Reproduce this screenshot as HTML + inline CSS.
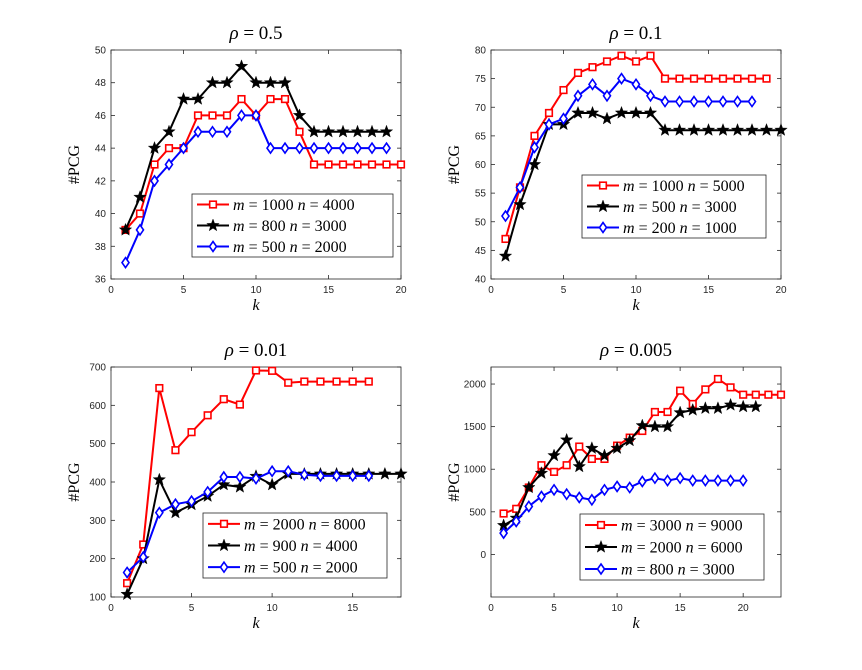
<!DOCTYPE html>
<html><head><meta charset="utf-8"><style>
body{margin:0;background:#fff}
svg{display:block}
.sans{font-family:"Liberation Sans",sans-serif}
.serif{font-family:"Liberation Serif",serif}
</style></head><body>
<svg id="fig" width="862" height="670" xmlns="http://www.w3.org/2000/svg"></svg>
<script>
// ---- data ----
const tlRed=[39,40,43,44,44,46,46,46,47,46,47,47,45,43,43,43,43,43,43,43];
const tlBlack=[39,41,44,45,47,47,48,48,49,48,48,48,46,45,45,45,45,45,45];
const tlBlue=[37,39,42,43,44,45,45,45,46,46,44,44,44,44,44,44,44,44,44];
const trRed=[47,56,65,69,73,76,77,78,79,78,79,75,75,75,75,75,75,75,75];
const trBlack=[44,53,60,67,67,69,69,68,69,69,69,66,66,66,66,66,66,66,66,66];
const trBlue=[51,56,63,67,68,72,74,72,75,74,72,71,71,71,71,71,71,71];
const blRed=[136,237,645,483,530,574,616,602,691,690,659,662,662,662,662,662];
const blBlack=[107,200,406,320,341,363,393,387,415,393,421,421,421,421,421,421,421,421];
const blBlue=[164,204,320,342,350,374,413,413,409,428,428,419,416,416,416,416];
const brRed=[480,535,785,1047,969,1047,1266,1121,1121,1277,1371,1449,1672,1672,1922,1766,1937,2059,1961,1875,1875,1875,1875];
const brBlack=[340,426,785,953,1160,1344,1031,1246,1160,1246,1336,1512,1500,1500,1664,1695,1715,1715,1754,1734,1734];
const brBlue=[250,387,563,680,758,707,668,641,758,797,785,856,895,867,895,867,867,867,867,867];
const tlYTicks=[36,38,40,42,44,46,48,50];
const trYTicks=[40,45,50,55,60,65,70,75,80];
const blYTicks=[100,200,300,400,500,600,700];
const brYTicks=[0,500,1000,1500,2000];
const x20Ticks=[0,5,10,15,20];
const x18Ticks=[0,5,10,15];
const tlLegend=["1000","4000","800","3000","500","2000"];
const trLegend=["1000","5000","500","3000","200","1000"];
const blLegend=["2000","8000","900","4000","500","2000"];
const brLegend=["3000","9000","2000","6000","800","3000"];

const NS="http://www.w3.org/2000/svg";
const fig=document.getElementById('fig');
function mk(tag,attrs,parent){const e=document.createElementNS(NS,tag);for(const k in attrs)e.setAttribute(k,attrs[k]);(parent||fig).appendChild(e);return e;}
const COL={red:'#ff0000',black:'#000000',blue:'#0000ff'};
function marker(g,type,x,y,c){
  let e;
  if(type==='sq'){e=mk('rect',{x:x-3.3,y:y-3.3,width:6.6,height:6.6,fill:'#fff',stroke:c,'stroke-width':1.6},g);}
  else if(type==='dia'){e=mk('polygon',{points:`${x},${y-5} ${x+3.5},${y} ${x},${y+5} ${x-3.5},${y}`,fill:'#fff',stroke:c,'stroke-width':1.6},g);}
  else {let p=[];for(let i=0;i<10;i++){const r=i%2?2.7:6.5;const a=-Math.PI/2+i*Math.PI/5;p.push((x+r*Math.cos(a)).toFixed(2)+','+(y+r*Math.sin(a)).toFixed(2));}
    e=mk('polygon',{points:p.join(' '),fill:c,stroke:c,'stroke-width':0.4},g);}
  
  
}
function panel(id,L,R,T,B,xmax,ymin,ymax,xticks,yticks,title,series,legend,lb){
  const g=mk('g',{});
  
  
  const xs=v=>L+(v/xmax)*(R-L), ys=v=>B-(v-ymin)/(ymax-ymin)*(B-T);
  const box=mk('rect',{x:L,y:T,width:R-L,height:B-T,fill:'#fff',stroke:'#262626','stroke-width':0.8},g);
  
  xticks.forEach(t=>{const x=xs(t);mk('line',{x1:x,y1:B,x2:x,y2:B-4,stroke:'#262626','stroke-width':0.8},g);mk('line',{x1:x,y1:T,x2:x,y2:T+4,stroke:'#262626','stroke-width':0.8},g);
    const tx=mk('text',{x:x,y:B+14,'font-size':10,fill:'#262626','text-anchor':'middle',class:'sans'},g);tx.textContent=t;
    });
  yticks.forEach(t=>{const y=ys(t);mk('line',{x1:L,y1:y,x2:L+4,y2:y,stroke:'#262626','stroke-width':0.8},g);mk('line',{x1:R,y1:y,x2:R-4,y2:y,stroke:'#262626','stroke-width':0.8},g);
    const tx=mk('text',{x:L-5,y:y+3.5,'font-size':10,fill:'#262626','text-anchor':'end',class:'sans'},g);tx.textContent=t;
    });
  const tt=mk('text',{x:(L+R)/2,y:T-11,'font-size':19,'text-anchor':'middle',class:'serif'},g);
  tt.innerHTML='<tspan font-style="italic">ρ</tspan> = '+title;
  
  const xl=mk('text',{x:(L+R)/2,y:B+31,'font-size':16,'font-style':'italic','text-anchor':'middle',class:'serif'},g);xl.textContent='k';
  
  const yl=mk('text',{x:0,y:0,'font-size':16,'text-anchor':'middle',class:'serif',transform:`translate(${L-32},${(T+B)/2}) rotate(-90)`},g);yl.textContent='#PCG';
  
  series.forEach(s=>{
    const pts=s.d.map((v,i)=>xs(i+1).toFixed(1)+','+ys(v).toFixed(1)).join(' ');
    const pl=mk('polyline',{points:pts,fill:'none',stroke:COL[s.c],'stroke-width':2},g);
    
    s.d.forEach((v,i)=>marker(g,s.m,xs(i+1),ys(v),COL[s.c]));
  });
  const lg=mk('g',{},g);
  
  mk('rect',{x:lb[0],y:lb[1],width:lb[2]-lb[0],height:lb[3]-lb[1],fill:'#fff',stroke:'#262626','stroke-width':0.8},lg);
  const rh=(lb[3]-lb[1])/3;
  series.forEach((s,i)=>{
    const y=lb[1]+rh*(i+0.5);
    mk('line',{x1:lb[0]+5,y1:y,x2:lb[0]+37,y2:y,stroke:COL[s.c],'stroke-width':2},lg);
    marker(lg,s.m,lb[0]+21,y,COL[s.c]);
    const t=mk('text',{x:lb[0]+41,y:y+5.5,'font-size':16,class:'serif'},lg);
    t.innerHTML=`<tspan font-style="italic">m</tspan> = ${legend[i*2]} <tspan font-style="italic">n</tspan> = ${legend[i*2+1]}`;
    
  });
}
panel('panel-rho-0.5',111,401,50,279,20,36,50,x20Ticks,tlYTicks,'0.5',
  [{d:tlRed,c:'red',m:'sq'},{d:tlBlack,c:'black',m:'star'},{d:tlBlue,c:'blue',m:'dia'}],tlLegend,[192,194,393,257]);
panel('panel-rho-0.1',491,781,50,279,20,40,80,x20Ticks,trYTicks,'0.1',
  [{d:trRed,c:'red',m:'sq'},{d:trBlack,c:'black',m:'star'},{d:trBlue,c:'blue',m:'dia'}],trLegend,[582,175,766,238]);
panel('panel-rho-0.01',111,401,367,597,18,100,700,x18Ticks,blYTicks,'0.01',
  [{d:blRed,c:'red',m:'sq'},{d:blBlack,c:'black',m:'star'},{d:blBlue,c:'blue',m:'dia'}],blLegend,[203,513,387,578]);
panel('panel-rho-0.005',491,781,367,597,23,-500,2200,x20Ticks,brYTicks,'0.005',
  [{d:brRed,c:'red',m:'sq'},{d:brBlack,c:'black',m:'star'},{d:brBlue,c:'blue',m:'dia'}],brLegend,[580,514,764,580]);
</script>
</body></html>
